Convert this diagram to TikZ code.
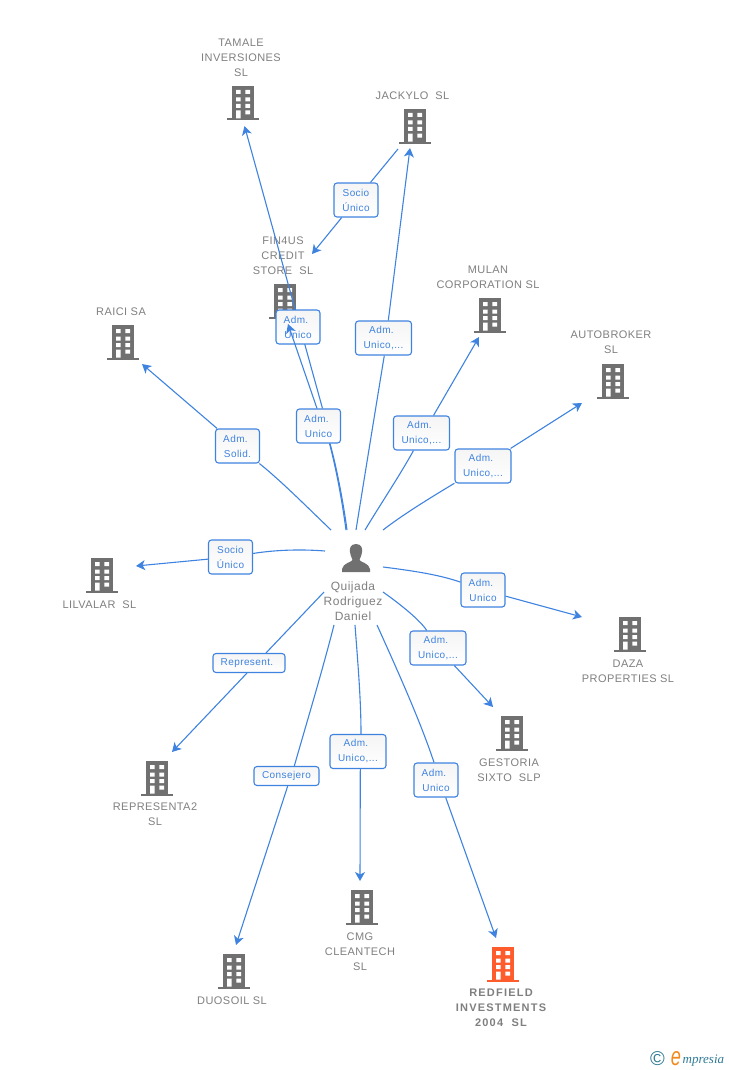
\documentclass[tikz,border=0pt]{standalone}
\usepackage{fontspec}
\setmainfont{Liberation Sans}
\newfontfamily\spaced[LetterSpace=4]{Liberation Sans}
\newfontfamily\widespaced[LetterSpace=11]{Liberation Sans}
\newfontfamily\tagfont[LetterSpace=4]{Liberation Sans}
\newfontfamily\logofont{Liberation Serif}
\usetikzlibrary{arrows.meta,shadings}
\definecolor{linkblue}{HTML}{3F83E0}
\definecolor{iconGrey}{HTML}{707070}
\definecolor{iconRed}{HTML}{FF5C2E}
\definecolor{textGrey}{HTML}{7F7F7F}
\definecolor{logoTeal}{HTML}{2F7A96}
\definecolor{logoOrange}{HTML}{F08A1D}
\newcommand{\admline}{Adm.\hspace*{4pt}}

\begin{document}
\begin{tikzpicture}[x=1pt, y=-1pt,
title/.style={text=textGrey,font=\spaced\fontsize{11}{15}\selectfont,align=center,inner sep=0pt},
relation/.style={rectangle,draw=linkblue,line width=1.1pt,rounded corners=3pt,top color=black!4,bottom color=white,
  text=linkblue,font=\tagfont\fontsize{10}{15}\selectfont,align=center,inner sep=0pt,minimum height=34,minimum width=44},
widerelation/.style={relation,minimum width=56},
flatrelation/.style={relation,minimum height=19},
link/.style={draw=linkblue,line width=1.1pt},
linkto/.style={link,-{Stealth[length=9pt,width=10pt,inset=2.5pt]}},
pics/building/.style={code={
  \fill[#1] (-11,-17) rectangle (11,15.5);
  \fill[#1] (-16,15.5) rectangle (16,17.5);
  \fill[white] (-7,-13) rectangle (-2.3,-9) (2.3,-13) rectangle (7,-9)
    (-7,-5.5) rectangle (-2.3,-1.5) (2.3,-5.5) rectangle (7,-1.5)
    (-7,1) rectangle (-2.3,5) (2.3,1) rectangle (7,5)
    (-7,7.5) rectangle (-2.3,15.5) (2.3,7.5) rectangle (7,11.5);
}},
pics/building/.default=iconGrey
]
\useasboundingbox (0,0) rectangle (728,1070);

% companies
\pic (tamale) at (243,103) {building};
\pic (jackylo) at (415,126) {building};
\pic (fin4us) at (285,301) {building};
\pic (mulan) at (490,315) {building};
\pic (autobroker) at (613,381) {building};
\pic (raici) at (123,342) {building};
\pic (lilvalar) at (102,575) {building};
\pic (daza) at (630,634) {building};
\pic (gestoria) at (512,733) {building};
\pic (representa) at (157,778) {building};
\pic (cmg) at (362,907) {building};
\pic (duosoil) at (234,971) {building};
\pic (redfield) at (503,964) {building=iconRed};

\node[title] (tamaleText) at (241,57.5) {TAMALE\\INVERSIONES\\SL};
\node[title] (jackyloText) at (412.5,95.5) {JACKYLO\ \ SL};
\node[title] (fin4usText) at (283,255.5) {FIN4US\\CREDIT\\STORE\ \ SL};
\node[title] (mulanText) at (488,277) {MULAN\\CORPORATION SL};
\node[title] (autobrokerText) at (611,342.5) {AUTOBROKER\\SL};
\node[title] (raiciText) at (121,311.5) {RAICI SA};
\node[title] (lilvalarText) at (99.5,604.5) {LILVALAR\ \ SL};
\node[title] (dazaText) at (628,671.5) {DAZA\\PROPERTIES SL};
\node[title] (gestoriaText) at (509,770) {GESTORIA\\SIXTO\ \ SLP};
\node[title] (representaText) at (155,814.5) {REPRESENTA2\\SL};
\node[title] (cmgText) at (360,951.5) {CMG\\CLEANTECH\\SL};
\node[title] (duosoilText) at (232,1000.5) {DUOSOIL SL};
\node[title,font=\widespaced\bfseries\fontsize{11}{15}\selectfont] (redfieldText) at (501,1008) {REDFIELD\\INVESTMENTS\\2004\ \ SL};

% person
\fill[iconGrey] (356,544) .. controls (350,544) and (349.5,549) .. (350,552)
  .. controls (350.5,556) and (352,558) .. (352.5,560) .. controls (352,562) and (343,563) .. (342,569)
  -- (342,572) -- (370,572) -- (370,569) .. controls (369,563) and (360,562) .. (359.5,560)
  .. controls (360,558) and (361.5,556) .. (362,552) .. controls (362.5,549) and (362,544) .. (356,544) -- cycle;
\node[title,font=\spaced\fontsize{12}{15}\selectfont] (quijada) at (353,601) {Quijada\\Rodriguez\\Daniel};

% free ends
\coordinate (tamaleTip) at (244.5,126);
\coordinate (jackyloOut) at (398,149);
\coordinate (fin4usIn) at (312,254);
\coordinate (fin4usTip) at (288,324);
\coordinate (jackyloTip) at (410,148);
\coordinate (mulanTip) at (479,337);
\coordinate (autobrokerTip) at (582,403);
\coordinate (raiciTip) at (142,364);
\coordinate (lilvalarTip) at (136,566);
\coordinate (dazaTip) at (582,617);
\coordinate (gestoriaTip) at (493,707);
\coordinate (representaTip) at (172,752);
\coordinate (duosoilTip) at (236,945);
\coordinate (cmgTip) at (360,881);
\coordinate (redfieldTip) at (496,938);

\coordinate (fromTamale) at (347,530);
\coordinate (fromFin4us) at (346,530);
\coordinate (fromJackylo) at (356,530);
\coordinate (fromMulan) at (365,530);
\coordinate (fromAutobroker) at (383,530);
\coordinate (fromRaici) at (331,530);
\coordinate (fromLilvalar) at (325,551);
\coordinate (fromDaza) at (383,567);
\coordinate (fromGestoria) at (383,592);
\coordinate (fromRepresenta) at (324,592);
\coordinate (fromDuosoil) at (334,625);
\coordinate (fromCmg) at (355,625);
\coordinate (fromRedfield) at (377,625);

% relations
\node[relation] (tamaleRel) at (318.5,426) {\admline\\Unico};
\draw[linkto] ([xshift=4pt]tamaleRel.north) -- (tamaleTip);
\draw[link] (fromTamale) .. controls (343,500) and (336,465) .. ([xshift=11.5pt]tamaleRel.south);
\node[relation] (fin4usRel) at (298,327) {\admline\\Unico};
\draw[linkto] ([xshift=-1.5pt]tamaleRel.north) -- (fin4usTip);
\draw[link] (fromFin4us) .. controls (342,500) and (336,468) .. ([xshift=11pt]tamaleRel.south);

\node[relation] (socioRel) at (356,200) {Socio\\Único};
\draw[link] (jackyloOut) -- (socioRel);
\draw[linkto] (socioRel) -- (fin4usIn);

\node[widerelation] (jackyloRel) at (383.5,338) {\admline\\Unico,...};
\draw[link] (fromJackylo) .. controls (364,480) and (377,400) .. ([xshift=.8pt]jackyloRel.south);
\draw[linkto] ([xshift=4.8pt]jackyloRel.north) -- (jackyloTip);

\node[widerelation] (mulanRel) at (421.5,433) {\admline\\Unico,...};
\draw[link] (fromMulan) .. controls (380,505) and (400,475) .. ([xshift=-8pt]mulanRel.south);
\draw[linkto] ([xshift=12pt]mulanRel.north) -- (mulanTip);

\node[widerelation] (autobrokerRel) at (483,466) {\admline\\Unico,...};
\draw[link] (fromAutobroker) .. controls (405,513) and (435,495) .. (autobrokerRel);
\draw[linkto] (autobrokerRel) -- (autobrokerTip);

\node[relation] (raiciRel) at (237.5,446) {\admline\\Solid.};
\draw[link] (fromRaici) .. controls (305,505) and (280,480) .. (raiciRel);
\draw[linkto] (raiciRel) -- (raiciTip);

\node[relation] (lilvalarRel) at (230.5,557) {Socio\\Único};
\draw[link] (fromLilvalar) .. controls (300,549) and (275,550) .. (lilvalarRel);
\draw[linkto] (lilvalarRel) -- (lilvalarTip);

\node[relation] (dazaRel) at (483,590) {\admline\\Unico};
\draw[link] (fromDaza) .. controls (415,571) and (440,575) .. (dazaRel);
\draw[linkto] (dazaRel) -- (dazaTip);

\node[widerelation] (gestoriaRel) at (438,648) {\admline\\Unico,...};
\draw[link] (fromGestoria) .. controls (400,604) and (420,620) .. (gestoriaRel);
\draw[linkto] (gestoriaRel) -- (gestoriaTip);

\node[flatrelation,minimum width=72] (representaRel) at (249,663) {Represent.\hspace*{4pt}};
\draw[link] (fromRepresenta) -- ([xshift=17pt]representaRel.north);
\draw[linkto] ([xshift=-2pt]representaRel.south) -- (representaTip);

\node[flatrelation,minimum width=65] (duosoilRel) at (286.5,776) {Consejero};
\draw[link] (fromDuosoil) .. controls (322,672) and (306,725) .. ([xshift=7.8pt]duosoilRel.north);
\draw[linkto] ([xshift=1.2pt]duosoilRel.south) -- (duosoilTip);

\node[widerelation] (cmgRel) at (358,751.5) {\admline\\Unico,...};
\draw[link] (fromCmg) .. controls (358,665) and (361,700) .. ([xshift=3pt]cmgRel.north);
\draw[linkto] ([xshift=2.3pt]cmgRel.south) -- (cmgTip);

\node[relation] (redfieldRel) at (436,780) {\admline\\Unico};
\draw[link] (fromRedfield) .. controls (395,665) and (420,720) .. ([xshift=-2pt]redfieldRel.north);
\draw[linkto] ([xshift=9.7pt]redfieldRel.south) -- (redfieldTip);

% logo
\node[text=logoTeal,font=\fontsize{20}{20}\selectfont,inner sep=0pt] (copyMark) at (657.5,1058.5) {©};
\node[text=logoOrange,font=\itshape\fontsize{26}{26}\selectfont,inner sep=0pt,anchor=base,transform shape,xscale=.7] (logoE) at (676,1065) {e};
\node[text=logoTeal,font=\logofont\itshape\fontsize{13}{13}\selectfont,inner sep=0pt,anchor=base west] (logoRest) at (682.5,1063) {mpresia};
\end{tikzpicture}
\end{document}
